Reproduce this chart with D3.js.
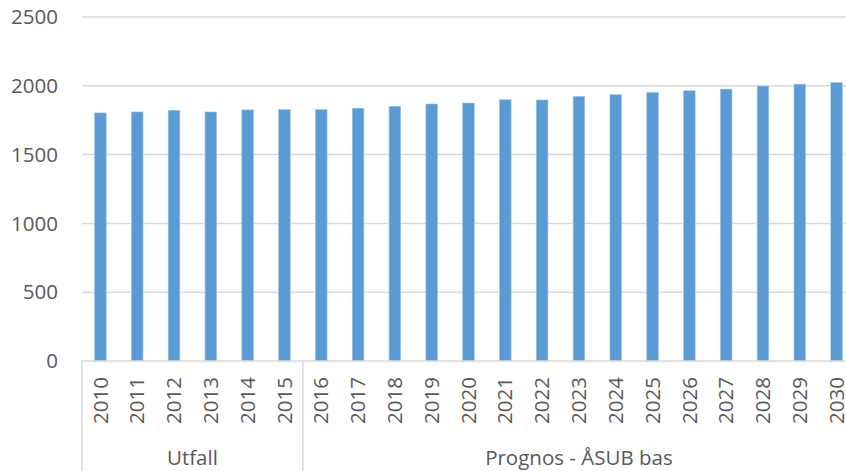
<!DOCTYPE html>
<html>
<head>
<meta charset="utf-8">
<script src="https://cdn.jsdelivr.net/npm/d3@7"></script>
<style>
  body { margin: 0; background: #fff; }
  svg text { font-family: "Open Sans", sans-serif; fill: #595959; }
</style>
</head>
<body>
<div id="chart"></div>
<script>
const years = ["2010","2011","2012","2013","2014","2015","2016","2017","2018","2019","2020",
               "2021","2022","2023","2024","2025","2026","2027","2028","2029","2030"];
const values = [1803,1810,1822,1810,1825,1827,1827,1837,1851,1868,1875,
                1899,1897,1923,1935,1952,1964,1976,1998,2012,2024];
const groups = [
  {label: "Utfall", from: "2010", to: "2015"},
  {label: "Prognos - ÅSUB bas", from: "2016", to: "2030"}
];
const yTicks = [0, 500, 1000, 1500, 2000, 2500];

const width = 846, height = 471;
const plotLeft = 82, plotRight = 855, plotTop = 17, plotBottom = 361;

const svg = d3.select("#chart")
  .append("svg")
  .attr("width", width)
  .attr("height", height);

const x = d3.scaleBand(years, [plotLeft, plotRight]).paddingInner(0.685).paddingOuter(0.3425);
const y = d3.scaleLinear([0, 2500], [plotBottom, plotTop]);
const step = x.step();
const gap = (step - x.bandwidth()) / 2;

// gridlines
svg.append("g")
  .selectAll("line")
  .data(yTicks.filter(d => d > 0))
  .join("line")
  .attr("x1", plotLeft).attr("x2", width)
  .attr("y1", d => y(d)).attr("y2", d => y(d))
  .attr("stroke", "#d9d9d9")
  .attr("stroke-width", 1.5);

// y labels
svg.append("g")
  .selectAll("text")
  .data(yTicks)
  .join("text")
  .attr("x", 58)
  .attr("y", d => y(d))
  .attr("dy", "0.35em")
  .attr("text-anchor", "end")
  .style("font-size", "20.5px")
  .text(d => d);

// bars
svg.append("g")
  .selectAll("rect")
  .data(values)
  .join("rect")
  .attr("x", (d, i) => x(years[i]))
  .attr("width", x.bandwidth())
  .attr("y", d => y(d))
  .attr("height", d => y(0) - y(d))
  .attr("fill", "#5b9bd5")
  .attr("stroke", "#9dc3e6")
  .attr("stroke-width", 0.6);

// x axis line
svg.append("line")
  .attr("x1", plotLeft).attr("x2", width)
  .attr("y1", plotBottom).attr("y2", plotBottom)
  .attr("stroke", "#d9d9d9")
  .attr("stroke-width", 1.5);

// group separators
svg.append("g")
  .selectAll("line")
  .data(groups.map(g => x(g.from) - gap))
  .join("line")
  .attr("x1", d => d).attr("x2", d => d)
  .attr("y1", plotBottom).attr("y2", height)
  .attr("stroke", "#d9d9d9")
  .attr("stroke-width", 1.5);

// year labels
svg.append("g")
  .selectAll("text")
  .data(years)
  .join("text")
  .attr("transform", d => `translate(${x(d) + x.bandwidth() / 2},377) rotate(-90)`)
  .attr("dy", "0.35em")
  .attr("text-anchor", "end")
  .style("font-size", "20.5px")
  .text(d => d);

// group labels
svg.append("g")
  .selectAll("text")
  .data(groups)
  .join("text")
  .attr("x", g => ((x(g.from) - gap) + (x(g.to) + x.bandwidth() + gap)) / 2)
  .attr("y", 465)
  .attr("text-anchor", "middle")
  .style("font-size", "20.5px")
  .text(g => g.label);
</script>
</body>
</html>
